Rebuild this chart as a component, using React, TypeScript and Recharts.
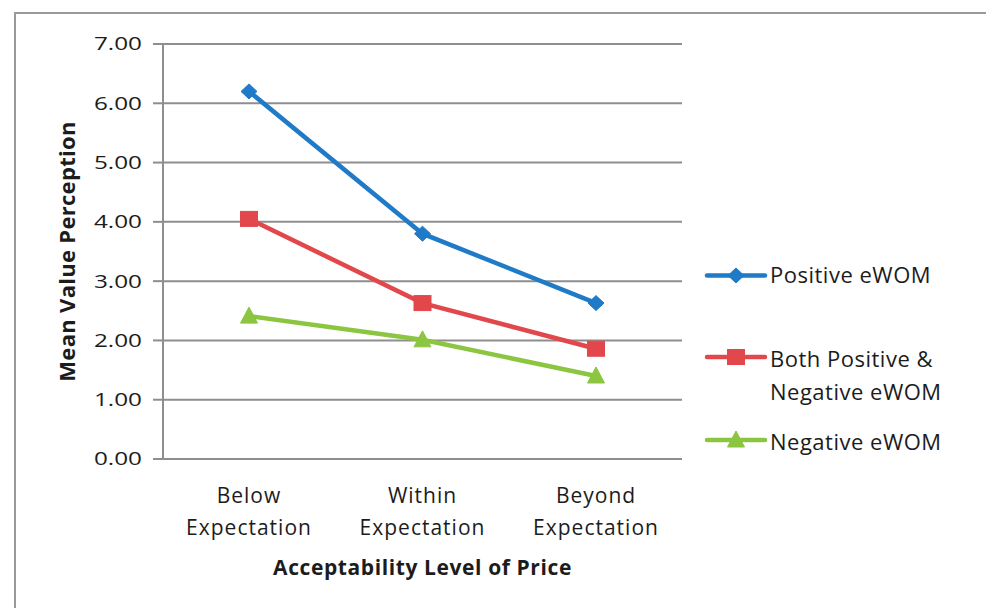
import React from 'react';
import { LineChart, Line, XAxis, YAxis, CartesianGrid, Legend, Label } from 'recharts';

const categories = ['Below Expectation', 'Within Expectation', 'Beyond Expectation'];
const positiveEWOM = [6.2, 3.8, 2.63];
const bothEWOM = [4.05, 2.63, 1.86];
const negativeEWOM = [2.41, 2.01, 1.4];
const yTicks = [0, 1, 2, 3, 4, 5, 6, 7];

const seriesNames = ['Positive eWOM', 'Both Positive & Negative eWOM', 'Negative eWOM'];
const seriesKeys = ['positive', 'both', 'negative'];
const seriesColors = ['#1f7bc7', '#e2474b', '#8cc540'];
const seriesShapes = ['diamond', 'square', 'triangle'];
const legendLines = [['Positive eWOM'], ['Both Positive &', 'Negative eWOM'], ['Negative eWOM']];

const xTitle = 'Acceptability Level of Price';
const yTitle = 'Mean Value Perception';

const data = categories.map((c, i) => ({
  category: c,
  positive: positiveEWOM[i],
  both: bothEWOM[i],
  negative: negativeEWOM[i],
}));

const FONT = '"Open Sans", sans-serif';
const GRID = '#8e8e8e';
const TEXT = '#1c1c1c';

function Marker({ shape, cx, cy, color }: { shape: string; cx: number; cy: number; color: string }) {
  if (cx == null || cy == null) return null;
  if (shape === 'diamond') {
    return <polygon points={`${cx},${cy - 7.5} ${cx + 8},${cy} ${cx},${cy + 7.5} ${cx - 8},${cy}`} fill={color} stroke={color} strokeWidth={1} />;
  }
  if (shape === 'square') {
    return <rect x={cx - 8.5} y={cy - 7.5} width={17} height={15} fill={color} stroke={color} strokeWidth={1} />;
  }
  return <polygon points={`${cx},${cy - 9} ${cx + 8.5},${cy + 7} ${cx - 8.5},${cy + 7}`} fill={color} stroke={color} strokeWidth={1} />;
}

const makeDot = (shape: string, color: string) => (props: any) => (
  <Marker key={`${shape}-${props.index}`} shape={shape} cx={props.cx} cy={props.cy} color={color} />
);

const XTick = (props: any) => {
  const { x, y, payload } = props;
  const words = String(payload.value).split(' ');
  return (
    <g>
      {words.map((w: string, i: number) => (
        <text
          key={i}
          x={x}
          y={y + 44 + i * 32}
          textAnchor="middle"
          fontFamily={FONT}
          fontSize={21}
          fill={TEXT}
          style={{ letterSpacing: '1px' }}
        >
          {w}
        </text>
      ))}
    </g>
  );
};

const YTick = (props: any) => {
  const { x, y, payload } = props;
  return (
    <text
      x={0}
      y={0}
      dy="0.36em"
      transform={`translate(${x - 2}, ${y}) scale(1.35, 1)`}
      textAnchor="end"
      fontFamily={FONT}
      fontSize={18}
      fill={TEXT}
    >
      {Number(payload.value).toFixed(2)}
    </text>
  );
};

const LegendContent = () => (
  <svg width={290} height={220} style={{ display: 'block', overflow: 'visible' }}>
    {seriesNames.map((name, i) => {
      const iconY = [25.5, 107, 190][i];
      const baseY = [33, 117, 200][i];
      return (
        <g key={name}>
          <line x1={17} y1={iconY} x2={75} y2={iconY} stroke={seriesColors[i]} strokeWidth={4.5} strokeLinecap="round" />
          <Marker shape={seriesShapes[i]} cx={46} cy={iconY} color={seriesColors[i]} />
          {legendLines[i].map((ln, j) => (
            <text
              key={j}
              x={80}
              y={baseY + j * 33}
              fontFamily={FONT}
              fontSize={22}
              fill={TEXT}
              style={{ letterSpacing: '0.5px' }}
            >
              {ln}
            </text>
          ))}
        </g>
      );
    })}
  </svg>
);

export default function App() {
  return (
    <div style={{ position: 'absolute', left: 0, top: 0, width: 986, height: 608, background: '#fff', overflow: 'hidden' }}>
      <div
        style={{
          position: 'absolute',
          left: 14,
          top: 12,
          width: 986,
          height: 620,
          borderTop: '2px solid #9a9a9a',
          borderLeft: '2px solid #9a9a9a',
          boxSizing: 'border-box',
        }}
      />
      <div style={{ position: 'absolute', left: 0, top: 0 }}>
        <LineChart width={986} height={608} data={data} margin={{ top: 44, right: 304, bottom: 49, left: 63 }}>
          <CartesianGrid vertical={false} stroke={GRID} strokeWidth={2} />
          <XAxis
            dataKey="category"
            padding={{ left: 86, right: 86 }}
            height={100}
            tickLine={false}
            tickSize={0}
            tickMargin={0}
            axisLine={{ stroke: GRID, strokeWidth: 2 }}
            tick={<XTick />}
            interval={0}
          >
            <Label
              content={(p: any) => {
                const vb = p.viewBox;
                return (
                  <text
                    x={vb.x + vb.width / 2}
                    y={vb.y + 116}
                    textAnchor="middle"
                    fontFamily={FONT}
                    fontWeight="bold"
                    fontSize={21}
                    fill={TEXT}
                    style={{ letterSpacing: '0.6px' }}
                  >
                    {xTitle}
                  </text>
                );
              }}
            />
          </XAxis>
          <YAxis
            domain={[0, 7]}
            ticks={yTicks}
            interval={0}
            width={100}
            tickSize={10}
            tickMargin={9}
            tickLine={{ stroke: GRID, strokeWidth: 2 }}
            axisLine={{ stroke: GRID, strokeWidth: 2 }}
            tick={<YTick />}
          >
            <Label
              content={(p: any) => {
                const vb = p.viewBox;
                const cy = vb.y + vb.height / 2;
                return (
                  <text
                    x={75}
                    y={cy}
                    transform={`rotate(-90, 75, ${cy})`}
                    textAnchor="middle"
                    fontFamily={FONT}
                    fontWeight="bold"
                    fontSize={22}
                    fill={TEXT}
                    style={{ letterSpacing: '0.3px' }}
                  >
                    {yTitle}
                  </text>
                );
              }}
            />
          </YAxis>
          <Legend
            layout="horizontal"
            verticalAlign="middle"
            align="right"
            content={<LegendContent />}
            wrapperStyle={{ position: 'absolute', left: 690, top: 250, width: 0, height: 0, overflow: 'visible' }}
          />
          {seriesKeys.map((k, i) => (
            <Line
              key={k}
              type="linear"
              dataKey={k}
              name={seriesNames[i]}
              stroke={seriesColors[i]}
              strokeWidth={4.5}
              dot={makeDot(seriesShapes[i], seriesColors[i])}
              activeDot={false}
              isAnimationActive={false}
            />
          ))}
        </LineChart>
      </div>
    </div>
  );
}
